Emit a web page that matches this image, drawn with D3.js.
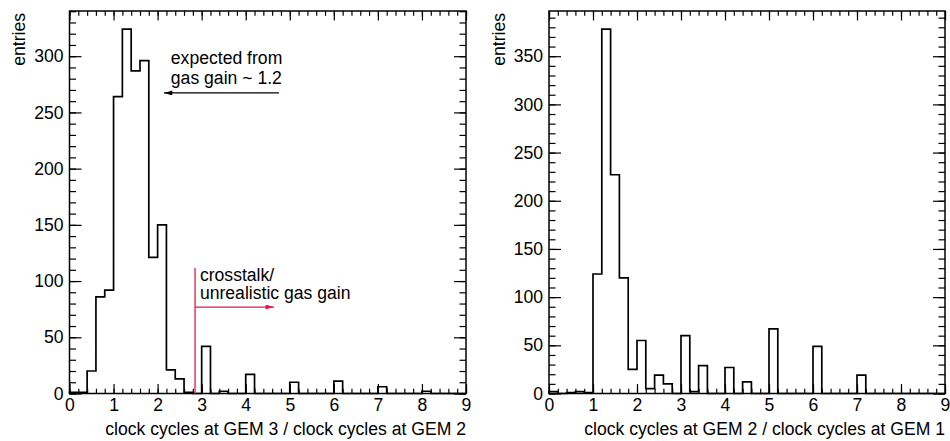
<html>
<script src='https://d3js.org/d3.v7.min.js'></script>
<style>
body {margin:0; background:white;}
svg text {font-family: "Liberation Sans", Arial, Helvetica, sans-serif; font-size:17.6px; fill:black;}
</style>
<body>
<svg width=950 height=441></svg>
<script>

// histogram bins: 0.2 wide, from 0 to 9
var binStart = 0;
var binWidth = 0.2;
var countsGem3Gem2 = [1,1,20,86,92, 264,324,287,296,121, 150,21,13,1,0, 42,0,2,0,0, 17,0,0,0,0,
                      10,0,0,0,0, 11,0,0,0,0, 6,0,0,0,0, 2,0,0,0,0];
var countsGem2Gem1 = [2,0,1,2,1, 124,378,227,120,25, 55,5,19,10,0, 60,2,29,0,0, 27,0,12,0,0,
                      67,0,0,0,0, 49,0,0,0,0, 19,0,0,0,0, 0,0,0,0,0];

var xTicks = [0,1,2,3,4,5,6,7,8,9];
var yTicksLeft = [0,50,100,150,200,250,300];
var yTicksRight = [0,50,100,150,200,250,300,350];
var xTitleLeft = "clock cycles at GEM 3 / clock cycles at GEM 2";
var xTitleRight = "clock cycles at GEM 2 / clock cycles at GEM 1";
var yTitle = "entries";

var svg = d3.select("svg");
var red = "#e3174f";

// arrow heads
var defs = svg.append("defs");
function addMarker(id, color) {
  defs.append("marker")
    .attr("id", id)
    .attr("viewBox", "0 0 10 6")
    .attr("refX", 10).attr("refY", 3)
    .attr("markerWidth", 9).attr("markerHeight", 5)
    .attr("markerUnits", "userSpaceOnUse")
    .attr("orient", "auto")
    .append("path")
    .attr("d", "M0,0 L10,3 L0,6 Z")
    .attr("fill", color);
}
addMarker("arrowBlack", "black");
addMarker("arrowRed", red);

function drawPanel(left, right, counts, yTicks, xTitle) {
  var top = 11, bottom = 393.5;
  var xMax = xTicks[xTicks.length - 1];
  var yMax = d3.max(counts) * 1.05;

  var x = d3.scaleLinear().domain([0, xMax]).range([left, right]);
  var y = d3.scaleLinear().domain([0, yMax]).range([bottom, top]);

  var minorX = d3.range(0, xMax + 0.001, binWidth);
  var minorY = d3.range(0, yMax, 10);

  var g = svg.append("g");

  // minor ticks
  g.append("g").attr("transform", "translate(0," + bottom + ")")
    .call(d3.axisBottom(x).tickValues(minorX).tickSizeInner(-4.8).tickSizeOuter(0).tickFormat(""));
  g.append("g").attr("transform", "translate(0," + top + ")")
    .call(d3.axisTop(x).tickValues(minorX).tickSizeInner(-4.8).tickSizeOuter(0).tickFormat(""));
  g.append("g").attr("transform", "translate(" + left + ",0)")
    .call(d3.axisLeft(y).tickValues(minorY).tickSizeInner(-6.5).tickSizeOuter(0).tickFormat(""));
  g.append("g").attr("transform", "translate(" + right + ",0)")
    .call(d3.axisRight(y).tickValues(minorY).tickSizeInner(-6.5).tickSizeOuter(0).tickFormat(""));

  // major ticks + labels
  g.append("g").attr("transform", "translate(0," + bottom + ")")
    .call(d3.axisBottom(x).tickValues(xTicks).tickSizeInner(-9.5).tickSizeOuter(0).tickPadding(5).tickFormat(d3.format("d")));
  g.append("g").attr("transform", "translate(0," + top + ")")
    .call(d3.axisTop(x).tickValues(xTicks).tickSizeInner(-9.5).tickSizeOuter(0).tickFormat(""));
  g.append("g").attr("transform", "translate(" + left + ",0)")
    .call(d3.axisLeft(y).tickValues(yTicks).tickSizeInner(-12).tickSizeOuter(0).tickPadding(6).tickFormat(d3.format("d")));
  g.append("g").attr("transform", "translate(" + right + ",0)")
    .call(d3.axisRight(y).tickValues(yTicks).tickSizeInner(-12).tickSizeOuter(0).tickFormat(""));

  g.selectAll(".domain").remove();
  g.selectAll(".tick line").attr("stroke", "black").attr("stroke-width", 1.2);
  g.selectAll(".tick text").attr("font-size", null).attr("font-family", null).attr("fill", "black");

  // histogram outline
  var pts = [[0, 0]];
  counts.forEach(function(c, i) { pts.push([binStart + i * binWidth, c]); });
  pts.push([xMax, 0]);
  g.append("path")
    .datum(pts)
    .attr("fill", "none")
    .attr("stroke", "black")
    .attr("stroke-width", 1.7)
    .attr("d", d3.line().x(function(d) { return x(d[0]); }).y(function(d) { return y(d[1]); }).curve(d3.curveStepAfter));

  // frame
  g.append("rect")
    .attr("x", left).attr("y", top)
    .attr("width", right - left).attr("height", bottom - top)
    .attr("fill", "none").attr("stroke", "black").attr("stroke-width", 1.5);

  // axis titles
  g.append("text")
    .attr("x", right).attr("y", 435)
    .attr("text-anchor", "end")
    .text(xTitle);
  g.append("text")
    .attr("transform", "translate(" + (left - 44.5) + "," + (top + 2) + ") rotate(-90)")
    .attr("text-anchor", "end")
    .text(yTitle);

  return {x: x, y: y, g: g};
}

var p1 = drawPanel(69.5, 466, countsGem3Gem2, yTicksLeft, xTitleLeft);
var p2 = drawPanel(549, 945, countsGem2Gem1, yTicksRight, xTitleRight);

// annotations on the left panel
var ax = p1.x, ay = p1.y, ag = p1.g;
ag.append("text").attr("x", ax(2.3)).attr("y", ay(293.5)).text("expected from");
ag.append("text").attr("x", ax(2.3)).attr("y", ay(275.5)).text("gas gain ~ 1.2");
ag.append("line")
  .attr("x1", ax(4.755)).attr("y1", ay(267.3))
  .attr("x2", ax(2.145)).attr("y2", ay(267.3))
  .attr("stroke", "black").attr("stroke-width", 1.2)
  .attr("marker-end", "url(#arrowBlack)");

ag.append("line")
  .attr("x1", ax(2.85)).attr("y1", ay(0))
  .attr("x2", ax(2.85)).attr("y2", ay(111.6))
  .attr("stroke", red).attr("stroke-width", 1.3);
ag.append("line")
  .attr("x1", ax(2.85)).attr("y1", ay(76.9))
  .attr("x2", ax(4.64)).attr("y2", ay(76.9))
  .attr("stroke", red).attr("stroke-width", 1.3)
  .attr("marker-end", "url(#arrowRed)");
ag.append("text").attr("x", ax(2.96)).attr("y", ay(100.3)).text("crosstalk/");
ag.append("text").attr("x", ax(2.96)).attr("y", ay(84)).text("unrealistic gas gain");

</script>
</body>
</html>
